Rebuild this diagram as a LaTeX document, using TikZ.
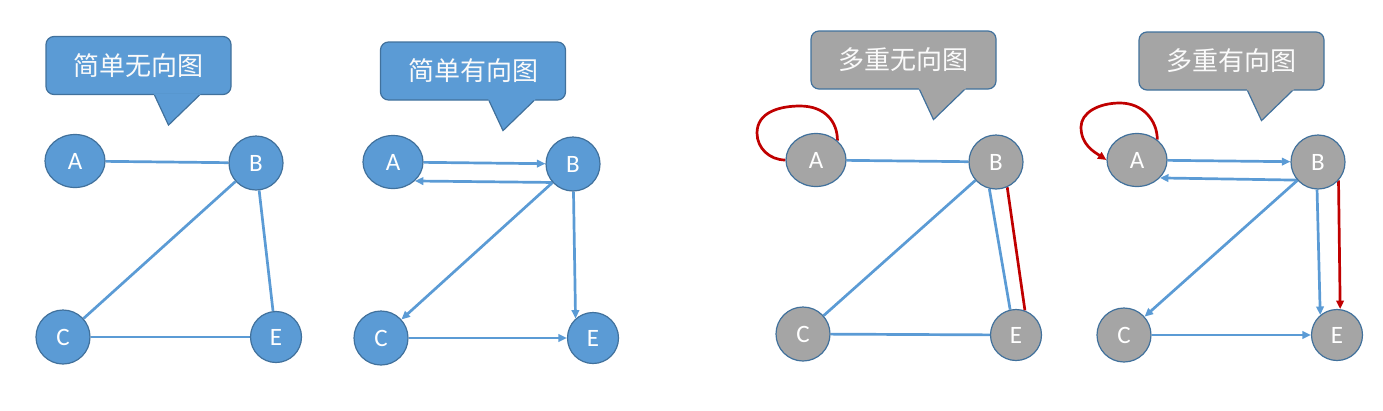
\documentclass[tikz,border=0pt]{standalone}
\usepackage{fontspec}
\usetikzlibrary{shapes.geometric,arrows.meta}
\newfontfamily\cjk{Noto Sans CJK SC}
\newfontfamily\lat{Carlito}
\definecolor{nblue}{HTML}{5B9BD5}
\definecolor{ngray}{HTML}{A5A5A5}
\definecolor{nedge}{HTML}{41719C}
\definecolor{nred}{HTML}{C00000}
\pgfdeclarelayer{bg}
\pgfsetlayers{bg,main}
\tikzset{
  vtx/.style={circle, draw=nedge, line width=1.2pt, inner sep=0pt, text=white,
    font=\lat\fontsize{25}{25}\selectfont},
  vell/.style={vtx, ellipse, minimum width=60pt, minimum height=53pt},
  bluev/.style={fill=nblue},
  grayv/.style={fill=ngray},
  callbox/.style={draw=nedge, line width=1.2pt, rounded corners=8pt,
    minimum width=185pt, minimum height=58pt, inner sep=0pt,
    text=white!96!gray, font=\cjk\fontsize{26}{26}\selectfont},
  ln/.style={line width=2.7pt, draw=nblue},
  rl/.style={line width=2.7pt, draw=nred},
  arr/.style={-{Triangle[length=8.5pt,width=7.5pt]}},
}
\newcommand\callptr[2]{%
  \fill[#2] ([shift={(15.3,-1.5)}]#1.south) -- ([shift={(30,30)}]#1.south) -- ([shift={(62.5,-1.5)}]#1.south) -- cycle;
  \draw[nedge, line width=1.2pt, line join=miter] ([shift={(16,0)}]#1.south) -- ([shift={(30,30)}]#1.south) -- ([shift={(61,0)}]#1.south);
}
\begin{document}
\begin{tikzpicture}[x=1pt,y=-1pt]
\useasboundingbox (0,0) rectangle (1383,410);

% ---- callouts ----
\node[callbox,fill=nblue] (T1) at (138.5,65.5) {简单无向图};
\callptr{T1}{nblue}
\node[callbox,fill=nblue] (T2) at (473,71) {简单有向图};
\callptr{T2}{nblue}
\node[callbox,fill=ngray] (T3) at (903.5,60) {多重无向图};
\callptr{T3}{ngray}
\node[callbox,fill=ngray] (T4) at (1231.5,61) {多重有向图};
\callptr{T4}{ngray}

% ---- graph 1 ----
\node[vell,bluev] (A1) at (75,161) {A};
\node[vtx,bluev,minimum size=54pt] (B1) at (256,163) {B};
\node[vtx,bluev,minimum size=54pt] (C1) at (63,337) {C};
\node[vtx,bluev,minimum size=51pt] (E1) at (276,337) {E};

% ---- graph 2 ----
\node[vell,bluev] (A2) at (393,162) {A};
\node[vtx,bluev,minimum size=54pt] (B2) at (573,164) {B};
\node[vtx,bluev,minimum size=54pt] (C2) at (381,338) {C};
\node[vtx,bluev,minimum size=51pt] (E2) at (593,338) {E};

% ---- graph 3 ----
\node[vell,grayv] (A3) at (816,160) {A};
\node[vtx,grayv,minimum size=54pt] (B3) at (996,162) {B};
\node[vtx,grayv,minimum size=54pt] (C3) at (803,334) {C};
\node[vtx,grayv,minimum size=51pt] (E3) at (1016,335) {E};

% ---- graph 4 ----
\node[vell,grayv] (A4) at (1137,160) {A};
\node[vtx,grayv,minimum size=54pt] (B4) at (1318,162) {B};
\node[vtx,grayv,minimum size=54pt] (C4) at (1124,335) {C};
\node[vtx,grayv,minimum size=51pt] (E4) at (1337,335) {E};

\coordinate (L3a) at (757,133);
\coordinate (L3b) at (800,106);
\coordinate (L4a) at (1120,103);
\coordinate (L4b) at (1081,127);

\begin{pgfonlayer}{bg}
  % graph 1
  \draw[ln] (A1) -- (B1);
  \draw[ln] (B1) -- (C1);
  \draw[ln] (B1) -- (E1);
  \draw[ln] (C1) -- (E1);
  % graph 2
  \draw[ln,arr] (A2) -- (B2);
  \draw[ln,arr] (B2.222) -- (A2.-41);
  \draw[ln,arr] (B2) -- (C2);
  \draw[ln,arr] (B2.-89) -- (E2.132);
  \draw[ln,arr] (C2) -- (E2);
  % graph 3
  \draw[ln] (A3) -- (B3);
  \draw[ln] (B3) -- (C3);
  \draw[ln] (C3) -- (E3);
  \draw[ln] (B3.-104) -- (E3.103);
  \draw[rl] (B3.-66) -- (E3.70);
  \draw[rl] (A3.180) .. controls +(-16,0) and +(0,15) .. (L3a)
            .. controls +(0,-21) and +(-20,0) .. (L3b)
            .. controls +(25,0) and +(0,-19) .. (A3.42);
  % graph 4
  \draw[ln,arr] (A4) -- (B4);
  \draw[ln,arr] (B4.221) -- (A4.-38);
  \draw[ln,arr] (B4) -- (C4);
  \draw[ln,arr] (B4.-92) -- (E4.130);
  \draw[rl,arr] (B4.-42) -- (E4.83);
  \draw[ln,arr] (C4) -- (E4);
  \draw[rl,arr] (A4.45) .. controls +(0,-20) and +(22,0) .. (L4a)
            .. controls +(-22,0) and +(0,-14) .. (L4b)
            .. controls +(0,18) and +(-12,-8) .. (A4.180);
\end{pgfonlayer}
\end{tikzpicture}
\end{document}
